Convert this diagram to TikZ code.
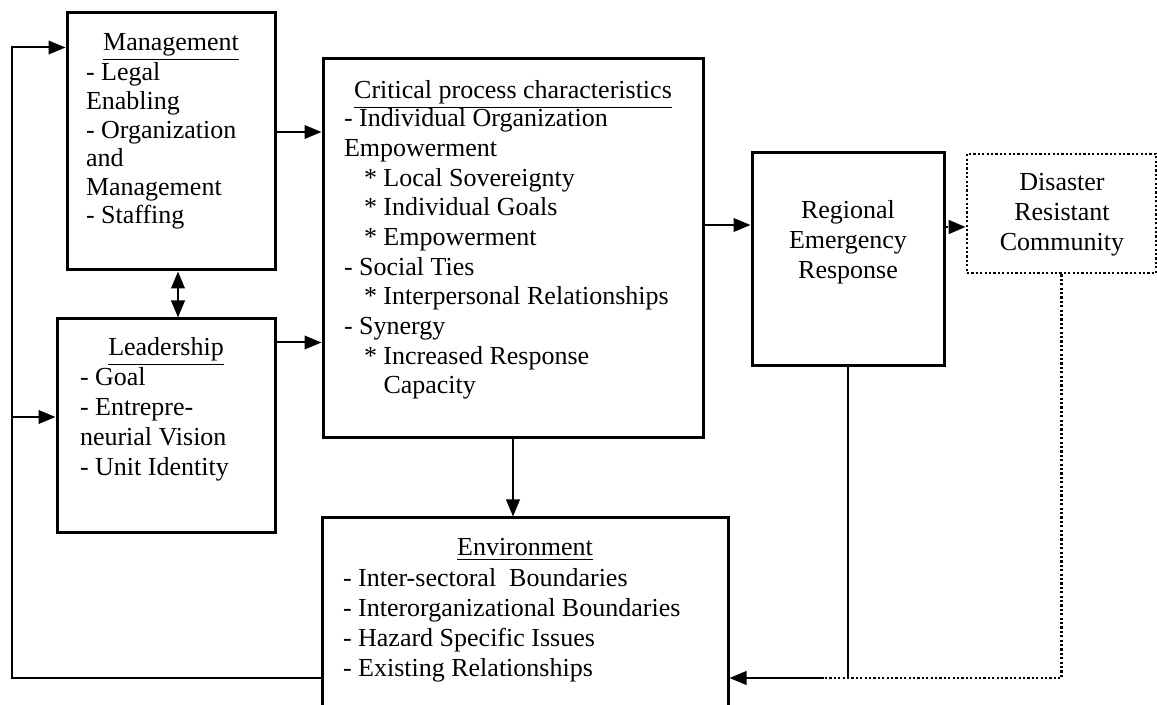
\documentclass[tikz,border=0pt]{standalone}
\usepackage{fontspec}
\setmainfont{Liberation Serif}
\usetikzlibrary{arrows.meta}
\tikzset{>/.tip={Triangle[length=8.5pt,width=6.8pt]},
  blk/.style={draw, line width=1.5pt, inner sep=0pt},
  dotline/.style={line width=1.4pt, dash pattern=on 1.1pt off 1.1pt},
  ttl/.style={anchor=base, inner sep=0pt},
  items/.style={anchor=base west, inner sep=0pt, align=left}}

\begin{document}
\begin{tikzpicture}[x=0.5pt, y=-0.5pt, line width=1pt, font=\fontsize{13}{15}\selectfont]
\useasboundingbox (0,0) rectangle (1157,705);
\clip (0,0) rectangle (1157,705);
\fill[white] (0,0) rectangle (1157,705);
% boxes
\node[blk, minimum width=104pt, minimum height=128.5pt] (mgmt) at (171,141.5) {};
\node[blk, minimum width=109pt, minimum height=107pt]   (lead) at (166,426) {};
\node[blk, minimum width=190pt, minimum height=189.5pt] (crit) at (513,248.5) {};
\node[blk, minimum width=96pt, minimum height=106.5pt]  (reg)  at (848,259.5) {};
\node[blk, dotline, minimum width=94.5pt, minimum height=59.5pt] (dis) at (1061.5,213.5) {};
\node[blk, minimum width=203pt, minimum height=120pt]   (env)  at (525,638) {};
% texts (base = last line)
\node[ttl] (mgmt t) at (171,51) {\underline{Management}};
\node[items, font=\fontsize{13}{14.3}\selectfont] (mgmt l) at (85,224)
  {- Legal\\Enabling\\- Organization\\and\\Management\\- Staffing};
\node[ttl] (lead t) at (166,356) {\underline{Leadership}};
\node[items] (lead l) at (79,476)
  {- Goal\\- Entrepre-\\neurial Vision\\- Unit Identity};
\node[ttl] (crit t) at (513,99) {\underline{Critical process characteristics}};
\node[items, font=\fontsize{13}{14.85}\selectfont] (crit l) at (343,394)
  {- Individual Organization\\Empowerment\\
   \hspace*{10pt}* Local Sovereignty\\
   \hspace*{10pt}* Individual Goals\\
   \hspace*{10pt}* Empowerment\\
   - Social Ties\\
   \hspace*{10pt}* Interpersonal Relationships\\
   - Synergy\\
   \hspace*{10pt}* Increased Response\\
   \hspace*{10pt}\phantom{*}~Capacity};
\node[ttl, align=center] (reg t) at (848,279) {Regional\\Emergency\\Response};
\node[ttl, align=center] (dis t) at (1062,251) {Disaster\\Resistant\\Community};
\node[ttl] (env t) at (525,556) {\underline{Environment}};
\node[items] (env l) at (342,676)
  {- Inter-sectoral\ \ Boundaries\\- Interorganizational Boundaries\\
   - Hazard Specific Issues\\- Existing Relationships};
% connectors
\coordinate (fb) at (12,678);
\coordinate (join) at (824,678);
\draw[->] ([yshift=4.75pt]mgmt.east) -- ([yshift=4.75pt]mgmt.east -| crit.west);
\draw[->] ([yshift=-12.5pt]lead.north east) -- ([yshift=-12.5pt]lead.north east -| crit.west);
\draw[<->] ([xshift=3.5pt]mgmt.south) -- ([xshift=3.5pt]mgmt.south |- lead.north);
\draw[->] (crit.south) -- (crit.south |- env.north);
\draw[->] ([yshift=11.75pt]crit.east) -- ([yshift=11.75pt]crit.east -| reg.west);
\draw[->, dotline] ([yshift=16.25pt]reg.east) -- ([yshift=16.25pt]reg.east -| dis.west);
\draw[->] (env.west |- fb) -- (fb) |- ([yshift=-18pt]mgmt.north west);
\draw[->] (fb |- 0,417) -- (lead.west |- 0,417);
\draw (reg.south) -- (reg.south |- fb);
\draw[dotline] (dis.south) -- (dis.south |- fb) -- (join);
\draw[->] (join) -- (env.east |- join);
\end{tikzpicture}
\end{document}
